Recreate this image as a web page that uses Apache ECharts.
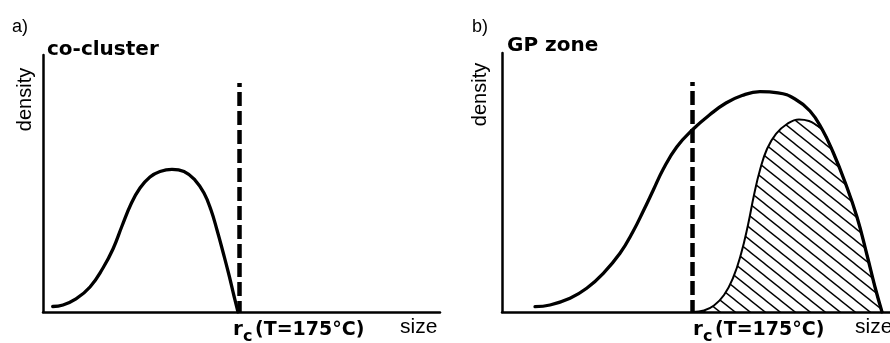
<!DOCTYPE html>
<html><head><meta charset="utf-8">
<script src="https://cdn.jsdelivr.net/npm/echarts@6/dist/echarts.min.js"></script>
<style>html,body{margin:0;padding:0;background:#fff}#c{width:890px;height:343px}</style>
</head><body><div id="c"></div>
<script>
// Panel a: co-cluster size distribution
const coX = [2.44, 5.04, 8.31, 11.84, 15.11, 17.63, 19.9, 22.17, 24.43, 26.95, 29.47, 32.49, 35.52, 38.29, 40.55, 42.32, 43.83, 45.34, 46.85, 48.11, 49.12];
const coY = [2.14, 2.72, 5.06, 9.73, 17.12, 24.51, 33.46, 42.02, 48.25, 52.53, 54.67, 55.53, 54.67, 51.36, 46.3, 39.69, 31.91, 23.35, 14.4, 6.23, 0];
// Panel b: GP zone size distribution
const gpX = [8.51, 12.37, 17.53, 21.83, 26.11, 30.41, 33.84, 36.42, 39.0, 41.57, 45.03, 49.3, 53.61, 57.73, 61.86, 66.49, 71.13, 75.52, 79.38, 82.47, 85.31, 88.4, 91.49, 94.07, 96.13, 97.94];
const gpY = [2.05, 2.7, 5.29, 9.15, 14.94, 22.66, 31.27, 39.0, 47.1, 55.21, 63.71, 70.66, 76.25, 80.69, 83.59, 85.06, 84.63, 82.24, 77.61, 70.66, 61.78, 50.19, 36.68, 22.01, 9.65, 0];
// Panel b: hatched part (sizes above r_c)
const hatchX = [49.2, 52.06, 54.64, 57.22, 59.54, 61.6, 63.4, 64.95, 66.49, 68.3, 70.62, 73.45, 76.55, 79.12, 81.19, 82.47, 85.31, 88.4, 91.49, 94.07, 96.13, 97.94];
const hatchY = [0, 0.58, 2.51, 6.56, 13.13, 22.39, 33.59, 45.17, 54.83, 62.93, 68.73, 72.59, 74.32, 73.75, 72.01, 70.66, 61.78, 50.19, 36.68, 22.01, 9.65, 0];
// critical radius r_c (T=175°C) and top of its dashed marker
const rcA = 49.5, rcTopA = 89.1;
const rcB = 49.1, rcTopB = 88.8;
const rcText = '(T=175°C)';

const zip = (xs, ys) => xs.map((x, i) => [x, ys[i]]);

// hatch pattern
const pc = document.createElement('canvas');
pc.width = 15; pc.height = 12;
const g = pc.getContext('2d');
g.strokeStyle = '#000'; g.lineWidth = 1.4;
for (let k = -1; k <= 1; k++) {
  g.beginPath(); g.moveTo(-15, -12 + k * 12); g.lineTo(30, 24 + k * 12); g.stroke();
}

const axisCommon = {
  type: 'value', min: 0, max: 100,
  axisLine: { show: true, onZero: false, lineStyle: { color: '#000', width: 2.5 } },
  axisTick: { show: false }, axisLabel: { show: false }, splitLine: { show: false }
};

const curve = (xi, yi, data, w) => ({
  type: 'line', xAxisIndex: xi, yAxisIndex: yi, data, symbol: 'none', smooth: 0.45,
  silent: true,
  lineStyle: { color: '#000', width: w, cap: 'round', join: 'round' }
});
const dashed = (xi, yi, rc, top) => ({
  type: 'line', xAxisIndex: xi, yAxisIndex: yi, data: [[rc, top], [rc, 0]], symbol: 'none', silent: true,
  lineStyle: { color: '#000', width: 4.5, type: [14, 5], dashOffset: 10, cap: 'butt' }
});

function txt(x, y, text, font, extra) {
  return Object.assign({
    type: 'text', x, y, silent: true,
    style: { text, font, fill: '#000', textAlign: 'left', textVerticalAlign: 'middle', verticalAlign: 'middle' }
  }, extra || {});
}
const BOLD = 'DejaVu Sans';
const REG = 'Liberation Sans';
function labels(dx) {
  return [
    txt(233 + dx, 330, 'r', 'bold 20px ' + BOLD),
    txt(243 + dx, 336.5, 'c', 'bold 16px ' + BOLD),
    txt(255 + dx, 330.4, rcText, 'bold 19px ' + BOLD)
  ];
}
function vtext(x, y) {
  return txt(x, y, 'density', '20px ' + REG, { rotation: Math.PI / 2, style: { text: 'density', font: '20px ' + REG, fill: '#000', textAlign: 'center', textVerticalAlign: 'middle', verticalAlign: 'middle' } });
}

const chart = echarts.init(document.getElementById('c'), null, { renderer: 'canvas' });
const hatchSeries = curve(1, 1, zip(hatchX, hatchY), 2);
hatchSeries.areaStyle = { color: { image: pc, repeat: 'repeat' }, opacity: 1 };

chart.setOption({
  animation: false,
  backgroundColor: '#fff',
  grid: [
    { left: 43, top: 55, width: 397, height: 257 },
    { left: 502, top: 53, width: 388, height: 259 }
  ],
  xAxis: [Object.assign({ gridIndex: 0 }, axisCommon), Object.assign({ gridIndex: 1 }, axisCommon)],
  yAxis: [Object.assign({ gridIndex: 0 }, axisCommon), Object.assign({ gridIndex: 1 }, axisCommon)],
  series: [
    curve(0, 0, zip(coX, coY), 3.3),
    dashed(0, 0, rcA, rcTopA),
    hatchSeries,
    curve(1, 1, zip(gpX, gpY), 3.3),
    dashed(1, 1, rcB, rcTopB)
  ],
  graphic: [
    txt(12, 26.7, 'a)', '18px ' + REG),
    txt(472, 26.7, 'b)', '18px ' + REG),
    txt(47, 50, 'co-cluster', 'bold 20px ' + BOLD),
    txt(507, 46, 'GP zone', 'bold 20px ' + BOLD),
    vtext(25.7, 99.5),
    vtext(480.4, 94.5),
    txt(400, 327.7, 'size', '21px ' + REG),
    txt(855, 327.7, 'size', '21px ' + REG)
  ].concat(labels(0), labels(460))
});
</script></body></html>
